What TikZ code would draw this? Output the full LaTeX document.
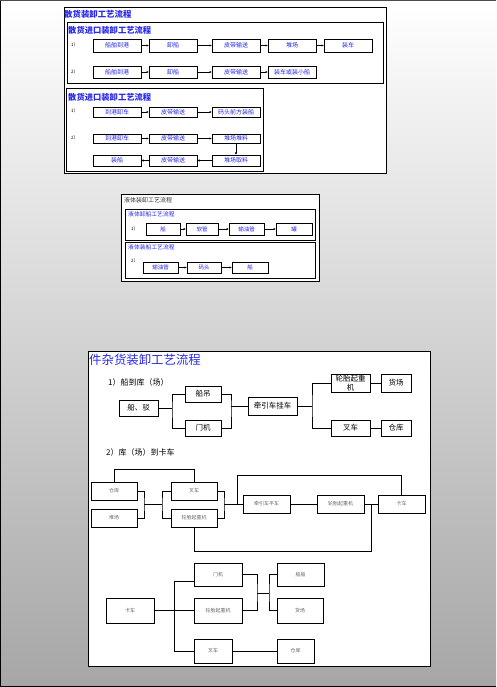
\documentclass[tikz,border=0pt]{standalone}
\usepackage{fontspec}
\newfontfamily\cjk{Noto Sans CJK SC}
\usetikzlibrary{arrows.meta}
\definecolor{tblue}{RGB}{40,40,235}
\definecolor{bggray}{RGB}{166,166,166}
\newcommand\Bx[7][]{\node[bx,#1,minimum width={(#5-#3)*1pt},minimum height={(#6-#4)*1pt}] (#2) at ({(#3+#5)/2},{(#4+#6)/2}) {#7};}
\begin{document}
\begin{tikzpicture}[x=1pt,y=-1pt,
 grp/.style={draw=black,line width=1pt,fill=white},
 bx/.style={draw=black,line width=0.9pt,fill=white,inner sep=0pt,outer sep=0pt,align=center},
 tb/.style={font=\cjk\fontsize{6}{6}\selectfont,text=tblue},
 lb/.style={font=\cjk\fontsize{5.5}{5.5}\selectfont,text=tblue},
 kb/.style={font=\cjk\fontsize{7.5}{8.5}\selectfont,text=black},
 gb/.style={font=\cjk\fontsize{5}{5}\selectfont,text=black!60},
 arr/.style={-{Latex[length=2.5pt,width=2.2pt]},line width=0.8pt},
 ln/.style={line width=0.8pt},
 num/.style={font=\cjk\fontsize{4.5}{4.5}\selectfont,anchor=west,inner sep=0pt},
 ttl/.style={anchor=west,inner sep=0pt,text=tblue}]
\useasboundingbox (0,0) rectangle (496,687);
\shade[top color=white,bottom color=bggray] (0,0) rectangle (496,687);
\draw[line width=1.5pt] (0,0) -- (0,687);
\draw[line width=0.8pt,black!70] (0,0) -- (496,0);
\draw[line width=1.5pt] (0,687) -- (496,687);

% ---------- bulk cargo ----------
\draw[grp] (64,8) rectangle (386,173);
\node[ttl,font=\cjk\bfseries\fontsize{8.4}{8.4}\selectfont] (t0) at (64,14) {散货装卸工艺流程};
\draw[grp] (67,23) rectangle (383,84);
\node[ttl,font=\cjk\bfseries\fontsize{8.3}{8.3}\selectfont] (t1) at (68,30) {散货进口装卸工艺流程};
\node[num] (n1) at (71,45) {1）};
\Bx[tb]{a1}{93}{39}{141}{52}{船舶到港}
\Bx[tb]{a2}{149}{39}{197}{52}{卸船}
\Bx[tb]{a3}{212}{39}{260}{52}{皮带输送}
\Bx[tb]{a4}{268}{39}{316}{52}{堆场}
\Bx[tb]{a5}{324}{39}{372}{52}{装车}
\draw[arr] (a1) -- (a2);
\draw[arr] (a2) -- (a3);
\draw[arr] (a3) -- (a4);
\draw[arr] (a4) -- (a5);
\node[num] (n2) at (71,72) {2）};
\Bx[tb]{b1}{93}{66}{141}{78}{船舶到港}
\Bx[tb]{b2}{149}{66}{197}{78}{卸船}
\Bx[tb]{b3}{212}{66}{260}{78}{皮带输送}
\Bx[tb]{b4}{268}{66}{316}{78}{装车或装小船}
\draw[arr] (b1) -- (b2);
\draw[arr] (b2) -- (b3);
\draw[arr] (b3) -- (b4);

\draw[grp] (66,89) rectangle (263,171);
\node[ttl,font=\cjk\bfseries\fontsize{8.3}{8.3}\selectfont] (t2) at (68,97) {散货进口装卸工艺流程};
\node[num] (n3) at (71,111) {1）};
\Bx[tb]{e1}{93}{107}{141}{117}{到港卸车}
\Bx[tb]{e2}{149}{107}{197}{117}{皮带输送}
\Bx[tb]{e3}{212}{107}{260}{117}{码头前方装船}
\draw[arr] (e1) -- (e2);
\draw[arr] (e2) -- (e3);
\node[num] (n4) at (71,138) {2）};
\Bx[tb]{f1}{93}{134}{141}{143}{到港卸车}
\Bx[tb]{f2}{149}{134}{197}{143}{皮带输送}
\Bx[tb]{f3}{212}{134}{260}{143}{堆场堆料}
\Bx[tb]{g1}{93}{155}{141}{166}{装船}
\Bx[tb]{g2}{149}{155}{197}{166}{皮带输送}
\Bx[tb]{g3}{212}{155}{260}{166}{堆场取料}
\draw[arr] (f1) -- (f2);
\draw[arr] (f2) -- (f3);
\draw[arr] (f3) -- (g3);
\draw[arr] (g3) -- (g2);
\draw[arr] (g2) -- (g1);

% ---------- liquid ----------
\draw[grp] (121,194) rectangle (319,281);
\node[anchor=west,inner sep=0pt,font=\cjk\fontsize{6}{6}\selectfont,text=black!80] (t3) at (124,200) {液体装卸工艺流程};
\draw[grp,line width=0.9pt] (125,209) rectangle (315,240);
\node[ttl,font=\cjk\fontsize{5.8}{5.8}\selectfont] (t4) at (128,214) {液体卸船工艺流程};
\node[num] (n5) at (131,229) {1）};
\Bx[lb]{h1}{146}{223}{180}{235}{船}
\Bx[lb]{h2}{186}{223}{218}{235}{软管}
\Bx[lb]{h3}{229}{223}{264}{235}{输油管}
\Bx[lb]{h4}{276}{223}{312}{235}{罐}
\draw[arr] (h1) -- (h2);
\draw[arr] (h2) -- (h3);
\draw[arr] (h3) -- (h4);
\draw[grp,line width=0.9pt] (125,242) rectangle (315,278);
\node[ttl,font=\cjk\fontsize{5.8}{5.8}\selectfont] (t5) at (128,247) {液体装船工艺流程};
\node[num] (n6) at (131,261) {2）};
\Bx[lb]{i1}{143}{262}{178}{273}{输油管}
\Bx[lb]{i2}{187}{262}{221}{273}{码头}
\Bx[lb]{i3}{232}{262}{268}{273}{船}
\draw[arr] (i1) -- (i2);
\draw[arr] (i2) -- (i3);

% ---------- general cargo ----------
\draw[grp] (88,351) rectangle (430,666);
\node[ttl,font=\cjk\fontsize{12.4}{12.4}\selectfont] (t6) at (89,360) {件杂货装卸工艺流程};
\node[anchor=west,inner sep=0pt,font=\cjk\fontsize{8}{8}\selectfont] (s1) at (108,382) {1）船到库（场）};
\Bx[kb]{p1}{119}{400}{158}{416}{船、驳}
\Bx[kb]{p2}{185}{386}{221}{402}{船吊}
\Bx[kb]{p3}{185}{420}{221}{436}{门机}
\Bx[kb]{p4}{248}{397}{297}{415}{牵引车挂车}
\Bx[kb]{p5}{331}{374}{370}{392}{轮胎起重\\机}
\Bx[kb]{p6}{381}{374}{411}{392}{货场}
\Bx[kb]{p7}{331}{420}{370}{436}{叉车}
\Bx[kb]{p8}{381}{420}{411}{436}{仓库}
\coordinate (j1) at (172,408);
\coordinate (j2) at (231,406);
\coordinate (j3) at (312,406);
\draw[ln] (p1.east) -- (j1);
\draw[ln] (p2.west) -| (j1) |- (p3.west);
\draw[ln] (p2.east) -| (j2) |- (p3.east);
\draw[ln] (j2) -- (p4.west);
\draw[ln] (p4.east) -- (j3);
\draw[ln] (p5.west) -| (j3) |- (p7.west);
\draw[ln] (p5) -- (p6);
\draw[ln] (p7) -- (p8);

\node[anchor=west,inner sep=0pt,font=\cjk\fontsize{8}{8}\selectfont] (s2) at (106,452) {2）库（场）到卡车};
\Bx[gb]{c1}{91}{482}{137}{500}{仓库}
\Bx[gb]{c2}{91}{509}{137}{527}{堆场}
\Bx[gb]{c3}{171}{482}{217}{500}{叉车}
\Bx[gb]{c4}{171}{509}{217}{527}{轮胎起重机}
\Bx[gb]{c5}{243}{495}{290}{513}{牵引车平车}
\Bx[gb]{c6}{317}{495}{364}{513}{轮胎起重机}
\Bx[gb]{c7}{378}{495}{425}{513}{卡车}
\coordinate (ja) at (144,504);
\coordinate (jb) at (162,504);
\coordinate (jc) at (224,504);
\coordinate (jd) at (237,504);
\coordinate (je) at (371,504);
\draw[ln] (c1.north) -- ++(0,-13) -| (c3.north);
\draw[ln] (c1.east) -| (ja) |- (c2.east);
\draw[ln] (ja) -- (jb);
\draw[ln] (c3.west) -| (jb) |- (c4.west);
\draw[ln] (c3.east) -| (jc) |- (c4.east);
\draw[ln] (jc) -- (c5.west);
\draw[ln] (jd) -- ++(0,-29) -| (c7.north);
\draw[ln] (c5) -- (c6);
\draw[ln] (c6) -- (c7);
\draw[ln] (c4.south) -- ++(0,24) -| (je);

\Bx[gb]{d1}{106}{598}{154}{623}{卡车}
\Bx[gb]{d2}{194}{563}{242}{586}{门机}
\Bx[gb]{d3}{194}{598}{242}{623}{轮胎起重机}
\Bx[gb]{d4}{194}{639}{232}{663}{叉车}
\Bx[gb]{d5}{277}{563}{324}{586}{船舶}
\Bx[gb]{d6}{277}{598}{323}{623}{货场}
\Bx[gb]{d7}{277}{639}{314}{663}{仓库}
\coordinate (k1) at (174,581);
\coordinate (k2) at (174,651);
\coordinate (kx) at (257,593);
\coordinate (ky) at (269,593);
\draw[ln] (d1) -- (d3);
\draw[ln] (k1 -| d2.west) -- (k1) -- (k2) -- (d4.west);
\draw[ln] (d2.east) -| (kx) |- (d3.east);
\draw[ln] (kx) -- (ky);
\draw[ln] (d5.west) -| (ky) |- (d6.west);
\draw[ln] (d4) -- (d7);
\end{tikzpicture}
\end{document}
